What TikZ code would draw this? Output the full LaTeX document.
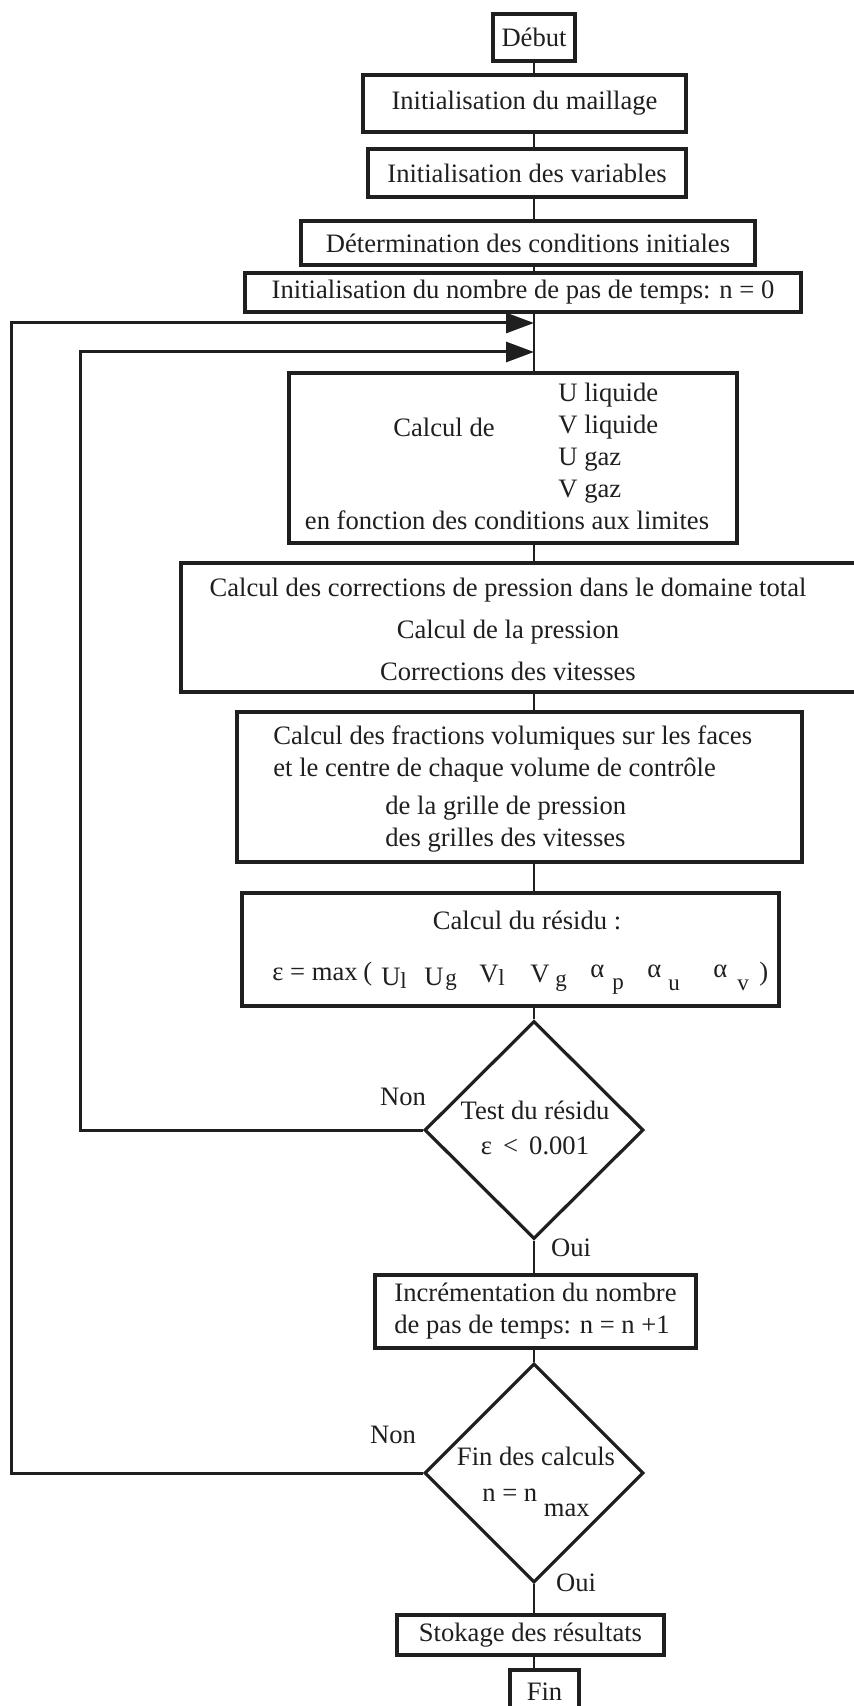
\documentclass[tikz,border=0pt]{standalone}
\usepackage{fontspec}
\setmainfont{Liberation Serif}
\usetikzlibrary{arrows.meta,shapes.geometric}
\definecolor{ink}{gray}{0.12}
\newcommand\myfs{\fontsize{13.3}{16}\selectfont}
\newcommand\subsz{\fontsize{11.5}{12}\selectfont}
\newcommand\itm[6]{\makebox[#1][l]{\makebox[#2][l]{\raisebox{#3}{#4}}\raisebox{#5}{\subsz #6}}}
\begin{document}
\begin{tikzpicture}[x=0.5pt,y=-0.5pt,
  box/.style={draw=ink,line width=1.6pt,rectangle,inner sep=0pt,font=\myfs,text=ink,align=center},
  txt/.style={inner sep=0pt,font=\myfs,text=ink},
  dec/.style={draw=ink,line width=1.6pt,diamond,aspect=1,inner sep=0pt},
  sz/.style 2 args={minimum width=#1*0.5pt,minimum height=#2*0.5pt},
  conn/.style={draw=ink,line width=1pt},
  loopline/.style={draw=ink,line width=1.5pt,-{Triangle[length=14pt,width=10pt]}},
]
\useasboundingbox (0,0) rectangle (853,1706);
\fill[white] (0,0) rectangle (853,1706);
\coordinate (cx) at (534,0);

\node[box,sz={82}{47}] (debut) at (534,37.5) {Début};
\node[box,sz={323}{57}] (maill) at (524.5,103.5) {Initialisation du maillage};
\node[box,sz={318}{48}] (vars) at (527,173) {Initialisation des variables};
\node[box,sz={454}{44}] (cond) at (528,243) {Détermination des conditions initiales};
\node[box,sz={556}{39}] (n0) at (523,292.5) {Initialisation du nombre de pas de temps: n = 0};

\node[box,sz={448}{170}] (calc) at (513,458) {};
\node[txt,anchor=west] (calcde) at (393,427) {Calcul de};
\node[txt,anchor=west,align=left] (vlist) at (558,443) {U liquide\\V liquide\\U gaz\\V gaz};
\node[txt] (enf) at (507,520) {en fonction des conditions aux limites};

\node[box,sz={689}{129}] (corr) at (525.5,627.5) {};
\node[txt,align=center,font={\fontsize{13.3}{21}\selectfont}] (corrt) at (508,629) {Calcul des corrections de pression dans le domaine total\\Calcul de la pression\\Corrections des vitesses};

\node[box,sz={565}{150}] (frac) at (519.5,787) {};
\node[txt,anchor=west,align=left] (frac1) at (273,754) {Calcul des fractions volumiques sur les faces\\et le centre de chaque volume de contrôle};
\node[txt,anchor=west,align=left] (frac2) at (385,824) {de la grille de pression\\des grilles des vitesses};

\node[box,sz={537}{113}] (res) at (510.5,949.5) {};
\node[txt] (rest) at (527,920) {Calcul du résidu :};
\node[txt,anchor=base west] (form) at (272,980) {\makebox[45.5pt][l]{ε = max}\makebox[9pt][l]{(}%
\itm{21.5pt}{9.5pt}{-2.5pt}{U}{-4pt}{l}%
\itm{27.5pt}{10.5pt}{-2.5pt}{U}{-2.5pt}{g}%
\itm{25.5pt}{9.5pt}{-1pt}{V}{-2.5pt}{l}%
\itm{30pt}{12.5pt}{-1pt}{V}{-3pt}{g}%
\itm{28.5pt}{11pt}{1.5pt}{α}{-4.5pt}{p}%
\itm{33pt}{10.5pt}{1.5pt}{α}{-5pt}{u}%
\itm{23pt}{12pt}{1.5pt}{α}{-5pt}{v})};

\node[dec,sz={219}{218}] (d1) at (534,1130) {};
\node[txt,align=center,font={\fontsize{13.3}{17.5}\selectfont}] (d1t) at (535,1128) {Test du résidu\\ε \,<\, 0.001};
\node[box,sz={321}{73},align=left] (incr) at (535.5,1311.5) {Incrémentation du nombre\\de pas de temps: n = n +1};
\node[dec,sz={219}{219}] (d2) at (534,1473) {};
\node[txt,align=center,font={\fontsize{13.3}{18}\selectfont}] (d2t) at (536,1482) {Fin des calculs\\n = n\raisebox{-1.2ex}{ max}};
\node[box,sz={267}{40}] (stok) at (530.5,1635) {Stokage des résultats};
\node[box,sz={69}{44}] (fin) at (544.5,1692) {Fin};

\node[txt] (non1) at (403,1097) {Non};
\node[txt] (oui1) at (571,1248) {Oui};
\node[txt] (non2) at (393,1435) {Non};
\node[txt] (oui2) at (576,1583) {Oui};

\draw[conn] (cx|-debut.south) -- (cx|-maill.north);
\draw[conn] (cx|-maill.south) -- (cx|-vars.north);
\draw[conn] (cx|-vars.south) -- (cx|-cond.north);
\draw[conn] (cx|-cond.south) -- (cx|-n0.north);
\draw[conn] (cx|-n0.south) -- (cx|-calc.north);
\draw[conn] (cx|-calc.south) -- (cx|-corr.north);
\draw[conn] (cx|-corr.south) -- (cx|-frac.north);
\draw[conn] (cx|-frac.south) -- (cx|-res.north);
\draw[conn] (cx|-res.south) -- (d1.north);
\draw[conn] (d1.south) -- (cx|-incr.north);
\draw[conn] (cx|-incr.south) -- (d2.north);
\draw[conn] (d2.south) -- (cx|-stok.north);
\draw[conn] (cx|-stok.south) -- (cx|-fin.north);

\coordinate (t1) at (534,323);
\coordinate (t2) at (534,352);
\coordinate (k1) at (11,0);
\coordinate (k2) at (80,0);
\draw[loopline] (d2.west) -| (k1|-t1) -- (t1);
\draw[loopline] (d1.west) -| (k2|-t2) -- (t2);
\end{tikzpicture}
\end{document}
